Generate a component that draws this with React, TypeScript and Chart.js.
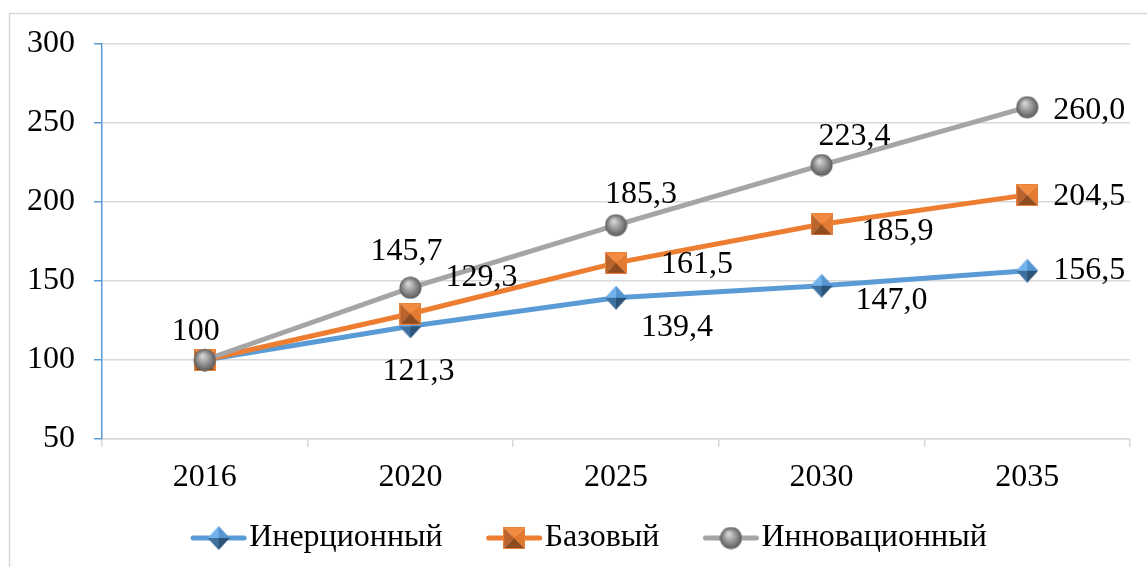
import React, { useEffect, useRef } from "react";
import { Chart, registerables } from "chart.js";

Chart.register(...registerables);

// ---- data ----
const categories = ["2016", "2020", "2025", "2030", "2035"];
const inertialValues = [100, 121.3, 139.4, 147.0, 156.5];
const baseValues = [100, 129.3, 161.5, 185.9, 204.5];
const innovativeValues = [100, 145.7, 185.3, 223.4, 260.0];
const seriesNames = ["Инерционный", "Базовый", "Инновационный"];
const yTickValues = [50, 100, 150, 200, 250, 300];

// label placement (pixel offsets from the point; null = no label)
const inertialLabelOffsets: ([number, number] | null)[] = [null, [8, 45], [61, 30], [70, 15], [62, 0]];
const baseLabelOffsets: ([number, number] | null)[] = [null, [71, -36], [81, 2], [76, 7], [62, 2]];
const innovativeLabelOffsets: ([number, number] | null)[] = [[-9, -28], [-4, -36], [25, -31], [33, -28], [62, 3]];

const FONT = "'Liberation Serif', 'Times New Roman', serif";
const BLUE = "#5B9BD5";
const ORANGE = "#ED7D31";
const GRAY = "#A5A5A5";

function fmt(v: number): string {
  if (Number.isInteger(v) && v === 100) return "100";
  return v.toFixed(1).replace(".", ",");
}

function makeDiamond(): HTMLCanvasElement {
  const c = document.createElement("canvas");
  const w = 22, h = 24;
  c.width = w; c.height = h;
  const g = c.getContext("2d")!;
  const cx = w / 2, cy = h / 2;
  const tri = (pts: number[][], col: string) => {
    g.beginPath();
    g.moveTo(pts[0][0], pts[0][1]);
    for (let i = 1; i < pts.length; i++) g.lineTo(pts[i][0], pts[i][1]);
    g.closePath();
    g.fillStyle = col;
    g.fill();
  };
  tri([[cx, 0], [0, cy], [cx, cy]], "#72B3EC");
  tri([[cx, 0], [w, cy], [cx, cy]], "#5596D2");
  tri([[0, cy], [cx, h], [cx, cy]], "#3D709F");
  tri([[w, cy], [cx, h], [cx, cy]], "#2B5378");
  return c;
}

function makeSquare(): HTMLCanvasElement {
  const c = document.createElement("canvas");
  const s = 22;
  c.width = s; c.height = s;
  const g = c.getContext("2d")!;
  const m = s / 2;
  const tri = (pts: number[][], col: string) => {
    g.beginPath();
    g.moveTo(pts[0][0], pts[0][1]);
    for (let i = 1; i < pts.length; i++) g.lineTo(pts[i][0], pts[i][1]);
    g.closePath();
    g.fillStyle = col;
    g.fill();
  };
  tri([[0, 0], [s, 0], [m, m]], "#F38A3F");
  tri([[s, 0], [s, s], [m, m]], "#E47A2F");
  tri([[0, 0], [0, s], [m, m]], "#B9642C");
  tri([[0, s], [s, s], [m, m]], "#8E4B1E");
  g.strokeStyle = "#E9823A";
  g.lineWidth = 1;
  g.strokeRect(0.5, 0.5, s - 1, s - 1);
  return c;
}

function makeSphere(): HTMLCanvasElement {
  const c = document.createElement("canvas");
  const s = 23;
  c.width = s; c.height = s;
  const g = c.getContext("2d")!;
  const grd = g.createRadialGradient(s * 0.4, s * 0.32, 1, s / 2, s / 2, s / 2);
  grd.addColorStop(0, "#D4D4D4");
  grd.addColorStop(0.55, "#8E8E8E");
  grd.addColorStop(1, "#555555");
  g.beginPath();
  g.arc(s / 2, s / 2, s / 2 - 0.5, 0, Math.PI * 2);
  g.fillStyle = grd;
  g.fill();
  return c;
}

export default function App() {
  const ref = useRef<HTMLCanvasElement | null>(null);

  useEffect(() => {
    document.body.style.margin = "0";
    const canvas = ref.current!;
    const diamond = makeDiamond();
    const square = makeSquare();
    const sphere = makeSphere();
    const markers = [diamond, square, sphere];
    const colors = [BLUE, ORANGE, GRAY];
    const offsets = [inertialLabelOffsets, baseLabelOffsets, innovativeLabelOffsets];

    const framePlugin = {
      id: "frame",
      beforeDraw(chart: any) {
        const ctx = chart.ctx;
        ctx.save();
        ctx.fillStyle = "#ffffff";
        ctx.fillRect(0, 0, chart.width, chart.height);
        ctx.strokeStyle = "#D9D9D9";
        ctx.lineWidth = 1.5;
        ctx.strokeRect(9.5, 13.5, 1300, 700);
        ctx.restore();
      },
    };

    const labelPlugin = {
      id: "valueLabels",
      afterDatasetsDraw(chart: any) {
        const ctx = chart.ctx;
        ctx.save();
        ctx.font = `32px ${FONT}`;
        ctx.fillStyle = "#000";
        ctx.textAlign = "center";
        ctx.textBaseline = "middle";
        chart.data.datasets.forEach((ds: any, di: number) => {
          const meta = chart.getDatasetMeta(di);
          meta.data.forEach((pt: any, i: number) => {
            const off = offsets[di][i];
            if (!off) return;
            ctx.fillText(fmt(ds.data[i]), pt.x + off[0], pt.y + off[1]);
          });
        });
        ctx.restore();
      },
    };

    const legendPlugin = {
      id: "customLegend",
      afterDraw(chart: any) {
        const ctx = chart.ctx;
        ctx.save();
        ctx.font = `32px ${FONT}`;
        const lineW = 55, gapText = 3, gapItem = 44;
        const widths = seriesNames.map((n) => lineW + gapText + ctx.measureText(n).width);
        const total = widths.reduce((a, b) => a + b, 0) + gapItem * (seriesNames.length - 1);
        let x = 589 - total / 2;
        const y = 538;
        seriesNames.forEach((name, i) => {
          ctx.strokeStyle = colors[i];
          ctx.lineWidth = 5;
          ctx.lineCap = "round";
          ctx.beginPath();
          ctx.moveTo(x + 2, y);
          ctx.lineTo(x + lineW - 2, y);
          ctx.stroke();
          const m = markers[i];
          ctx.drawImage(m, x + lineW / 2 - m.width / 2, y - m.height / 2);
          ctx.fillStyle = "#000";
          ctx.textAlign = "left";
          ctx.textBaseline = "middle";
          ctx.fillText(name, x + lineW + gapText, y);
          x += widths[i] + gapItem;
        });
        ctx.restore();
      },
    };

    const chart = new Chart(canvas, {
      type: "line",
      data: {
        labels: categories,
        datasets: [
          { label: seriesNames[0], data: inertialValues, borderColor: BLUE, backgroundColor: BLUE, borderWidth: 5, pointStyle: diamond as any, pointRadius: 10, tension: 0, order: 2 },
          { label: seriesNames[1], data: baseValues, borderColor: ORANGE, backgroundColor: ORANGE, borderWidth: 5, pointStyle: square as any, pointRadius: 10, tension: 0, order: 1 },
          { label: seriesNames[2], data: innovativeValues, borderColor: GRAY, backgroundColor: GRAY, borderWidth: 5, pointStyle: sphere as any, pointRadius: 10, tension: 0, order: 0 },
        ],
      },
      options: {
        responsive: false,
        animation: false,
        events: [],
        layout: { padding: { left: 0, right: 17, top: 44, bottom: 0 } },
        plugins: { legend: { display: false }, tooltip: { enabled: false } },
        scales: {
          x: {
            type: "category",
            offset: true,
            grid: { offset: true, drawOnChartArea: false, drawTicks: true, tickLength: 8, color: "#D9D9D9", lineWidth: 1.5 },
            border: { color: "#D9D9D9", width: 1.5 },
            ticks: { font: { family: FONT, size: 32 }, color: "#000", padding: 11, maxRotation: 0, autoSkip: false },
            afterFit: (s: any) => { s.height = 128; },
          },
          y: {
            min: 50,
            max: 300,
            afterBuildTicks: (s: any) => { s.ticks = yTickValues.map((v) => ({ value: v })); },
            ticks: { font: { family: FONT, size: 32 }, color: "#000", padding: 19 },
            grid: { color: "#D9D9D9", lineWidth: 1.5, tickLength: 8, tickColor: BLUE },
            border: { color: BLUE, width: 1.5 },
            afterFit: (s: any) => { s.width = 102; },
          },
        },
      },
      plugins: [framePlugin, labelPlugin, legendPlugin],
    } as any);

    return () => chart.destroy();
  }, []);

  return (
    <div style={{ position: "fixed", left: 0, top: 0, width: 1147, height: 567 }}>
      <canvas ref={ref} width={1147} height={567} style={{ width: 1147, height: 567, display: "block" }} />
    </div>
  );
}
